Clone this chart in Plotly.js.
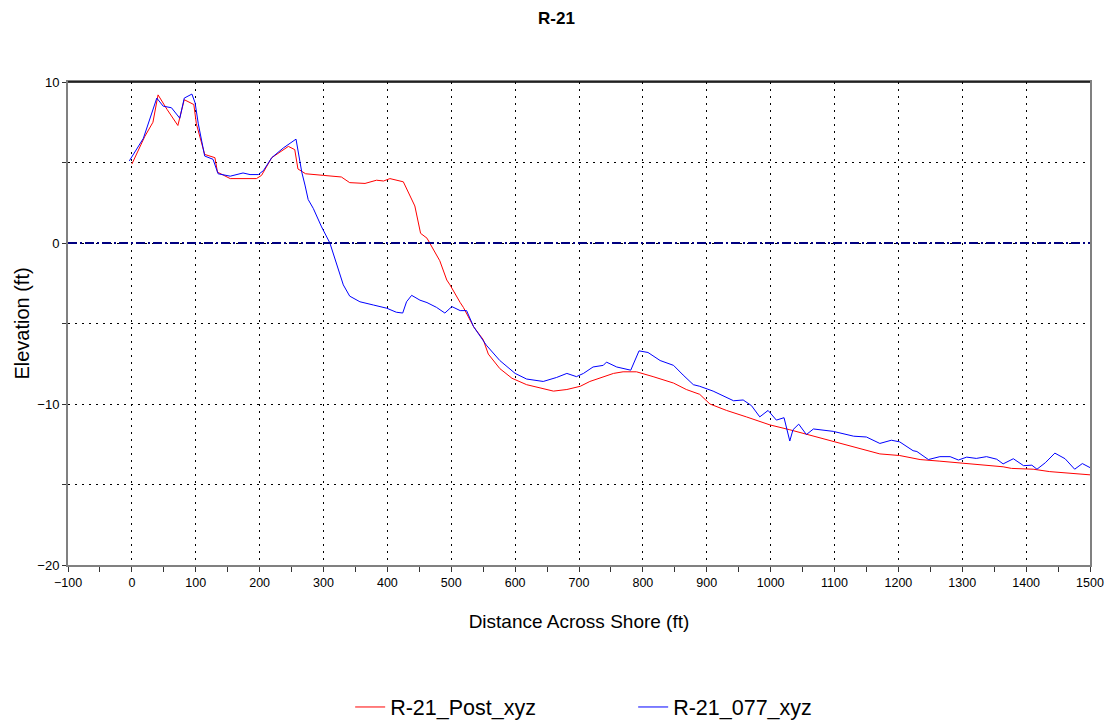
<!DOCTYPE html>
<html>
<head>
<meta charset="utf-8">
<script src="https://cdn.plot.ly/plotly-3.0.1.min.js"></script>
<style>html,body{margin:0;padding:0;background:#fff;}#chart{width:1113px;height:727px;}</style>
</head>
<body>
<div id="chart"></div>
<script>
const chartTitle = "R-21";
const xTitle = "Distance Across Shore (ft)";
const yTitle = "Elevation (ft)";
const postName = "R-21_Post_xyz";
const surveyName = "R-21_077_xyz";

const postX = [0,20,33,41,55,64,72,82,97,101,114,130,134,154,195,203,219,245,255,260,272,300,328,341,365,383,394,404,425,443,452,462,482,493,498,514,519,535,550,558,576,595,618,639,660,681,702,717,738,754,769,790,816,848,868,889,905,931,962,999,1030,1067,1108,1140,1171,1202,1234,1265,1307,1333,1364,1377,1411,1437,1463,1500];
const postY = [4.9,6.6,7.5,9.2,8.3,7.8,7.3,8.9,8.6,7.4,5.5,5.3,4.4,4.0,4.0,4.2,5.3,6.0,5.8,4.6,4.3,4.2,4.1,3.75,3.7,3.9,3.85,4.0,3.8,2.3,0.6,0.3,-1.1,-2.3,-2.6,-3.7,-4.0,-5.2,-6.0,-6.9,-7.8,-8.4,-8.8,-9.0,-9.2,-9.1,-8.9,-8.6,-8.3,-8.1,-8.0,-8.0,-8.3,-8.7,-9.1,-9.4,-10.0,-10.4,-10.8,-11.3,-11.6,-12.0,-12.45,-12.75,-13.1,-13.2,-13.45,-13.55,-13.7,-13.8,-13.9,-14.0,-14.05,-14.2,-14.3,-14.4];

const surveyX = [-4,18,39,49,62,75,82,94,99,104,114,127,135,154,174,185,198,206,219,237,257,266,271,276,284,297,310,321,331,341,357,378,399,414,424,430,438,451,462,477,490,501,514,524,535,555,576,600,618,644,665,681,696,707,722,738,743,759,781,794,808,827,848,863,879,889,910,942,957,970,983,996,1009,1021,1030,1035,1044,1056,1067,1098,1130,1150,1171,1189,1202,1223,1229,1247,1265,1281,1294,1307,1322,1338,1354,1364,1380,1396,1409,1417,1430,1445,1461,1476,1488,1500];
const surveyY = [5.1,6.5,9.0,8.5,8.4,7.75,9.0,9.25,8.7,7.4,5.4,5.2,4.3,4.15,4.35,4.25,4.25,4.5,5.3,5.9,6.45,4.4,3.6,2.7,2.15,1.0,0.0,-1.3,-2.6,-3.3,-3.65,-3.85,-4.05,-4.3,-4.35,-3.65,-3.25,-3.55,-3.7,-4.0,-4.35,-3.95,-4.2,-4.2,-5.2,-6.35,-7.3,-8.1,-8.45,-8.6,-8.35,-8.1,-8.3,-8.1,-7.7,-7.6,-7.4,-7.7,-7.9,-6.7,-6.8,-7.3,-7.6,-8.2,-8.8,-8.9,-9.2,-9.8,-9.75,-10.1,-10.8,-10.4,-11.0,-10.85,-12.3,-11.6,-11.25,-11.9,-11.55,-11.7,-12.0,-12.05,-12.45,-12.25,-12.35,-12.9,-12.95,-13.45,-13.27,-13.27,-13.48,-13.3,-13.38,-13.27,-13.43,-13.72,-13.4,-13.83,-13.8,-14.05,-13.65,-13.05,-13.4,-14.05,-13.7,-13.95];

const FONT = "Liberation Sans, Arial, sans-serif";

const traces = [
  {x: postX, y: postY, type: "scatter", mode: "lines", name: postName,
   line: {color: "#ff0000", width: 1}},
  {x: surveyX, y: surveyY, type: "scatter", mode: "lines", name: surveyName,
   line: {color: "#0000ff", width: 1}}
];

const layout = {
  width: 1113, height: 727,
  margin: {l: 68, r: 23, t: 82, b: 162, autoexpand: false},
  paper_bgcolor: "#ffffff", plot_bgcolor: "#ffffff",
  font: {family: FONT, color: "#000"},
  title: {text: "<b>" + chartTitle + "</b>", x: 0.5, xanchor: "center", y: 0.975, yanchor: "middle",
          font: {family: FONT, size: 17, color: "#000"}},
  showlegend: true,
  legend: {orientation: "h", x: 0.553, xanchor: "center", y: -0.294, yanchor: "middle",
           font: {family: FONT, size: 21.5, color: "#000"}, entrywidth: 238, entrywidthmode: "pixels"},
  xaxis: {
    range: [-100, 1500], dtick: 100, tick0: 0,
    showline: true, linecolor: "#808080", linewidth: 2, mirror: true,
    ticks: "outside", ticklen: 5, tickcolor: "#333", tickwidth: 1,
    minor: {dtick: 50, ticks: "outside", ticklen: 5, tickcolor: "#333", showgrid: false},
    showgrid: true, gridcolor: "#000", gridwidth: 1, griddash: "2px,5px",
    zeroline: false,
    tickfont: {family: FONT, size: 12.5, color: "#000"},
    title: {text: xTitle, font: {family: FONT, size: 19, color: "#000"}, standoff: 26}
  },
  yaxis: {
    range: [-20, 10], dtick: 10, tick0: 0,
    showline: true, linecolor: "#808080", linewidth: 2, mirror: true,
    ticks: "outside", ticklen: 4, tickcolor: "#333", tickwidth: 1,
    minor: {dtick: 5, ticks: "outside", ticklen: 4, tickcolor: "#333", showgrid: true,
            gridcolor: "#000", gridwidth: 1, griddash: "2px,5px"},
    showgrid: true, gridcolor: "#000", gridwidth: 1, griddash: "2px,5px",
    zeroline: false,
    tickfont: {family: FONT, size: 13, color: "#000"},
    title: {text: yTitle, font: {family: FONT, size: 20, color: "#000"}, standoff: 2}
  },
  shapes: [
    {type: "line", xref: "paper", yref: "y", x0: 0, x1: 1, y0: 0, y1: 0,
     line: {color: "#000080", width: 2, dash: "9px,3px,2px,3px"}},
    {type: "line", xref: "paper", yref: "paper", x0: 0, x1: 1, y0: 1, y1: 1,
     line: {color: "#000000", width: 1.5}}
  ]
};

Plotly.newPlot("chart", traces, layout, {displayModeBar: false, staticPlot: true});
</script>
</body>
</html>
